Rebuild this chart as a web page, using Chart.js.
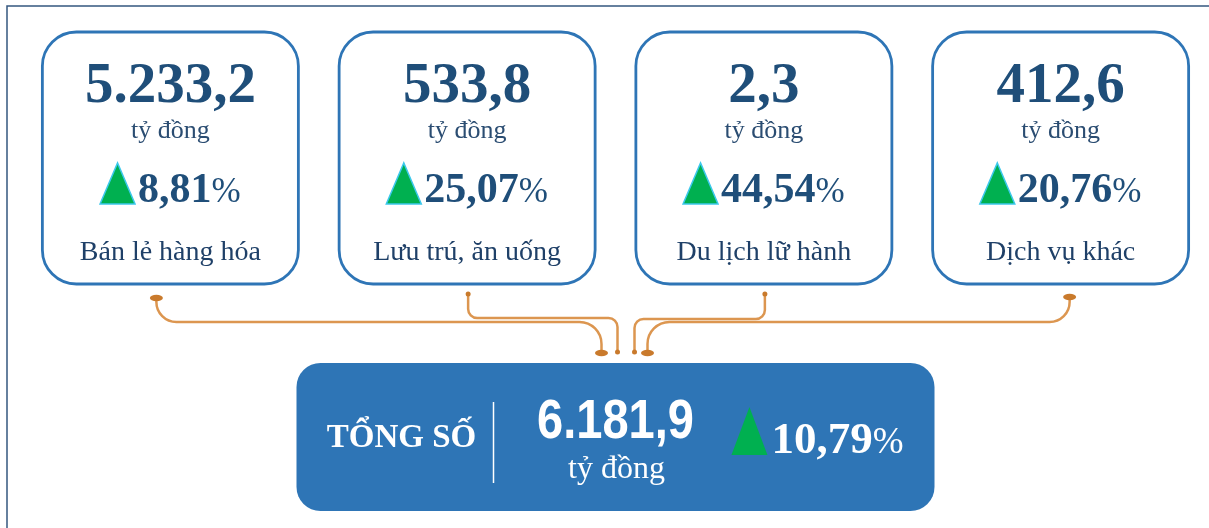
<!DOCTYPE html>
<html>
<head>
<meta charset="utf-8">
<script src="https://cdn.jsdelivr.net/npm/chart.js@4"></script>
<style>
  body { margin: 0; background: #fff; }
</style>
</head>
<body>
<canvas id="chart" width="1209" height="528"></canvas>
<script>
// Data
const categories = ["Bán lẻ hàng hóa", "Lưu trú, ăn uống", "Du lịch lữ hành", "Dịch vụ khác"];
const values = [5233.2, 533.8, 2.3, 412.6];
const growth = [8.81, 25.07, 44.54, 20.76];
const unit = "tỷ đồng";
const totalLabel = "TỔNG SỐ";
const totalValue = 6181.9;
const totalGrowth = 10.79;

const SERIF = '"Liberation Serif", "Times New Roman", serif';
const SANS = '"Liberation Sans", Arial, sans-serif';

// vietnamese number format: 5.233,2
function fmt(v, d) {
  const parts = v.toFixed(d).split(".");
  const int = parts[0].replace(/\B(?=(\d{3})+(?!\d))/g, ".");
  return parts[1] ? int + "," + parts[1] : int;
}

function roundRect(ctx, x, y, w, h, r) {
  ctx.beginPath();
  ctx.moveTo(x + r, y);
  ctx.arcTo(x + w, y, x + w, y + h, r);
  ctx.arcTo(x + w, y + h, x, y + h, r);
  ctx.arcTo(x, y + h, x, y, r);
  ctx.arcTo(x, y, x + w, y, r);
  ctx.closePath();
}

function triangle(ctx, x, bottom, w, h, fill, stroke) {
  ctx.beginPath();
  ctx.moveTo(x, bottom);
  ctx.lineTo(x + w / 2, bottom - h);
  ctx.lineTo(x + w, bottom);
  ctx.closePath();
  ctx.fillStyle = fill;
  ctx.fill();
  if (stroke) {
    ctx.strokeStyle = stroke;
    ctx.lineWidth = 1.5;
    ctx.stroke();
  }
}

// triangle + bold number + smaller %, centred on cx
function growthRow(ctx, cx, base, pct, opt) {
  const num = fmt(pct, 2);
  ctx.font = "bold " + opt.size + "px " + SERIF;
  const wNum = ctx.measureText(num).width;
  ctx.font = opt.pctSize + "px " + SERIF;
  const wPct = ctx.measureText("%").width;
  const total = opt.triW + opt.gap + wNum + wPct;
  let x = cx - total / 2;
  triangle(ctx, x, base + 2, opt.triW, opt.triH, "#00b050", opt.triStroke);
  x += opt.triW + opt.gap;
  ctx.textAlign = "left";
  ctx.fillStyle = opt.color;
  ctx.font = "bold " + opt.size + "px " + SERIF;
  ctx.fillText(num, x, base);
  ctx.font = opt.pctSize + "px " + SERIF;
  ctx.fillText("%", x + wNum, base);
}

function connector(ctx, sx, sy, hy, ex, ey, r1, r2) {
  const dir = ex > sx ? 1 : -1;
  ctx.beginPath();
  ctx.moveTo(sx, sy);
  ctx.arcTo(sx, hy, sx + dir * r1, hy, r1);
  ctx.arcTo(ex, hy, ex, ey, r2);
  ctx.lineTo(ex, ey);
  ctx.stroke();
}

function blob(ctx, x, y, big) {
  ctx.beginPath();
  if (big) ctx.ellipse(x, y, 6.5, 3.2, 0, 0, Math.PI * 2);
  else ctx.arc(x, y, 2.5, 0, Math.PI * 2);
  ctx.fill();
}

const infographic = {
  id: "infographic",
  beforeDraw(chart) {
    const ctx = chart.ctx;
    ctx.save();
    ctx.fillStyle = "#fff";
    ctx.fillRect(0, 0, chart.width, chart.height);
    ctx.restore();
  },
  afterDraw(chart) {
    const ctx = chart.ctx;
    const xs = chart.scales.x;
    ctx.save();

    // frame
    ctx.strokeStyle = "#34577f";
    ctx.lineWidth = 1.5;
    ctx.beginPath();
    ctx.moveTo(7, chart.height);
    ctx.lineTo(7, 6);
    ctx.lineTo(chart.width, 6);
    ctx.stroke();

    // cards
    const top = 32, w = 256, h = 252;
    categories.forEach((cat, i) => {
      const cx = xs.getPixelForValue(i);
      roundRect(ctx, cx - w / 2, top, w, h, 34);
      ctx.fillStyle = "#fff";
      ctx.fill();
      ctx.strokeStyle = "#2e75b6";
      ctx.lineWidth = 2.8;
      ctx.stroke();

      ctx.textAlign = "center";
      ctx.textBaseline = "alphabetic";
      ctx.fillStyle = "#1f4e79";
      ctx.font = "bold 57px " + SERIF;
      ctx.fillText(fmt(values[i], 1), cx, top + 70);

      ctx.fillStyle = "#2b4d72";
      ctx.font = "26px " + SERIF;
      ctx.fillText(unit, cx, top + 106);

      growthRow(ctx, cx, top + 170, growth[i], {
        size: 42, pctSize: 35, triW: 35, triH: 41, gap: 3,
        color: "#1f4e79", triStroke: "#3cc8ec"
      });

      ctx.textAlign = "center";
      ctx.fillStyle = "#1f4068";
      ctx.font = "28px " + SERIF;
      ctx.fillText(cat, cx, top + 228);
    });

    // connectors
    const mid = (xs.getPixelForValue(1) + xs.getPixelForValue(2)) / 2;
    const c = [0, 1, 2, 3].map(i => xs.getPixelForValue(i));
    ctx.strokeStyle = "#dc9650";
    ctx.fillStyle = "#c97a2c";
    ctx.lineWidth = 2.5;
    connector(ctx, c[0] - 14, 298, 322, mid - 14, 352, 20, 22);
    connector(ctx, c[1] + 1, 294, 318, mid + 2, 352, 9, 9);
    connector(ctx, c[2] + 1, 294, 319, mid + 19, 352, 9, 9);
    connector(ctx, c[3] + 9, 297, 322, mid + 32, 352, 20, 22);
    blob(ctx, c[0] - 14, 298, true);
    blob(ctx, c[1] + 1, 294, false);
    blob(ctx, c[2] + 1, 294, false);
    blob(ctx, c[3] + 9, 297, true);
    blob(ctx, mid - 14, 353, true);
    blob(ctx, mid + 2, 352, false);
    blob(ctx, mid + 19, 352, false);
    blob(ctx, mid + 32, 353, true);

    // total box
    const bx = mid - 319, by = 363, bw = 638, bh = 148;
    roundRect(ctx, bx, by, bw, bh, 24);
    ctx.fillStyle = "#2e75b6";
    ctx.fill();

    ctx.fillStyle = "#fff";
    ctx.textAlign = "center";
    ctx.font = "bold 33px " + SERIF;
    ctx.fillText(totalLabel, bx + 105, 447);

    ctx.strokeStyle = "#fff";
    ctx.lineWidth = 1.5;
    ctx.beginPath();
    ctx.moveTo(bx + 197, 402);
    ctx.lineTo(bx + 197, 483);
    ctx.stroke();

    ctx.save();
    ctx.translate(mid, 438);
    ctx.scale(0.84, 1);
    ctx.font = "bold 56px " + SANS;
    ctx.fillText(fmt(totalValue, 1), 0, 0);
    ctx.restore();

    ctx.font = "32px " + SERIF;
    ctx.fillText(unit, mid + 1, 478);

    growthRow(ctx, mid + 202, 453, totalGrowth, {
      size: 45, pctSize: 37, triW: 36, triH: 48, gap: 4,
      color: "#fff", triStroke: null
    });

    ctx.restore();
  }
};

new Chart(document.getElementById("chart"), {
  type: "bar",
  data: { labels: categories, datasets: [] },
  options: {
    responsive: false,
    animation: false,
    layout: { padding: { left: 22, right: 0, top: 0, bottom: 0 } },
    plugins: { legend: { display: false }, tooltip: { enabled: false } },
    scales: {
      x: { type: "category", offset: true, display: false },
      y: { display: false }
    }
  },
  plugins: [infographic]
});
</script>
</body>
</html>
